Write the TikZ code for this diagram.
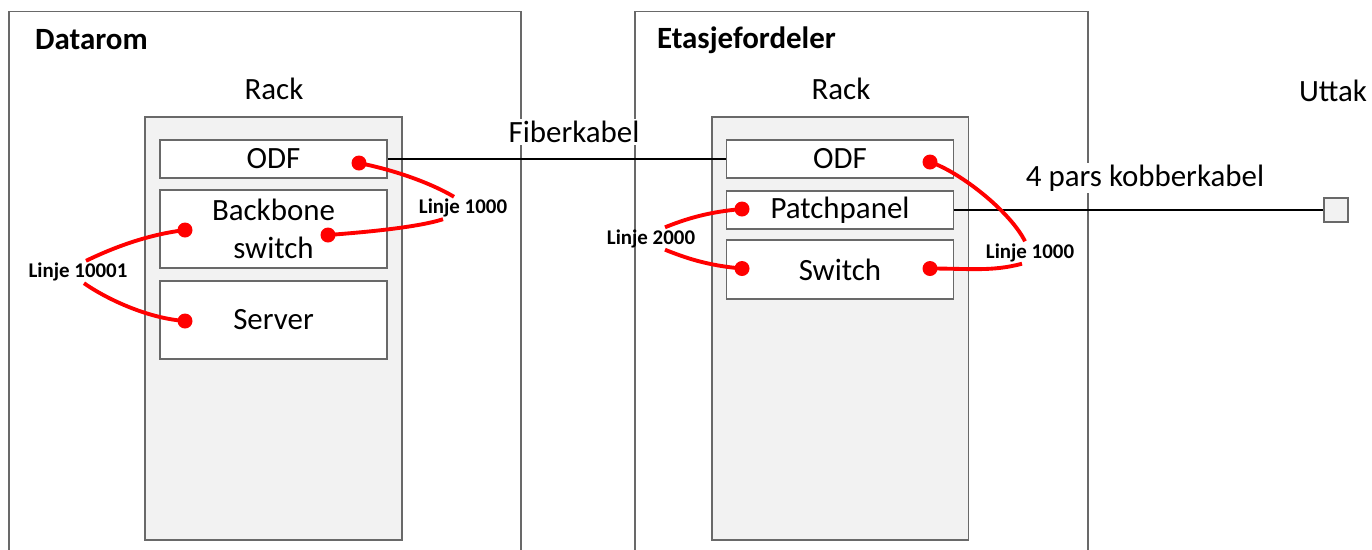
\documentclass[tikz,border=0pt]{standalone}
\usepackage{fontspec}
\setmainfont{Carlito}
\usetikzlibrary{positioning}

\definecolor{boxline}{RGB}{105,105,105}
\definecolor{rackfill}{RGB}{242,242,242}
\definecolor{cablered}{RGB}{255,0,0}
\newcommand{\bigtxt}{\fontsize{17.6}{21.5}\selectfont}
\newcommand{\tagtxt}{\fontsize{11.9}{14}\selectfont\bfseries}

\tikzset{
  room/.style={draw=boxline, line width=1.1pt},
  rack/.style={draw=boxline, fill=rackfill, line width=1.1pt, minimum width=5.14cm, minimum height=8.46cm, inner sep=0pt},
  unit/.style={draw=boxline, fill=white, line width=1.1pt, minimum width=4.54cm, inner sep=0pt, align=center, font=\bigtxt},
  dot/.style={circle, fill=cablered, minimum size=0.3cm, inner sep=0pt},
  cable/.style={cablered, line width=2.2pt},
  tag/.style={inner sep=1pt, font=\tagtxt},
  wire/.style={black, line width=0.8pt},
  txt/.style={inner sep=1pt, font=\bigtxt},
}

\begin{document}
\begin{tikzpicture}[x=0.02cm, y=-0.02cm]
            \useasboundingbox (0,0) rectangle (1372,549);

            % Rooms
            \draw[room] (9,560) -- (9,11.5) -- (521,11.5) -- (521,560);
            \draw[room] (635,560) -- (635,11.5) -- (1088,11.5) -- (1088,560);
            \node[txt, anchor=west, font=\bigtxt\bfseries] (datarom) at (33,40) {Datarom};
            \node[txt, anchor=west, font=\bigtxt\bfseries] (etasje) at (655,40) {Etasjefordeler};

            % Rack in Datarom
            \node[txt] (rackAlbl) at (274,89) {Rack};
            \node[rack] (rackA) at (273.5,328.5) {};
            \node[unit, minimum height=0.76cm] (odfA) at (273.5,159) {ODF};
            \node[unit, minimum height=1.56cm] (bbA) at (273.5,229) {Backbone\\switch};
            \node[unit, minimum height=1.56cm] (srvA) at (273.5,320) {Server};

            % Rack in Etasjefordeler
            \node[txt] (rackBlbl) at (841,89) {Rack};
            \node[rack] (rackB) at (840,328.5) {};
            \node[unit, minimum height=0.76cm] (odfB) at (840,159) {ODF};
            \node[unit, minimum height=0.76cm] (ppB) at (840,210) {Patchpanel};
            \node[unit, minimum height=1.18cm] (swB) at (840,269.5) {Switch};

            % Outlet
            \node[txt] (uttaklbl) at (1333,91) {Uttak};
            \node[draw=boxline, fill=rackfill, line width=1.1pt, minimum size=0.48cm, inner sep=0pt] (uttak) at (1336,210) {};

            % Cables between rooms
            \draw[wire] (odfA.east) -- (odfB.west);
            \node[txt, fill=white] (fiber) at (574,132) {Fiberkabel};
            \draw[wire] (ppB.east) -- (uttak.west);
            \node[txt, fill=white] (kobber) at (1145,178) {4 pars kobberkabel};

            % Ports
            \node[dot] (odfAp) at (359,163) {};
            \node[dot] (bbAl) at (185,230) {};
            \node[dot] (bbAr) at (328,235) {};
            \node[dot] (srvAp) at (185,321) {};
            \node[dot] (odfBp) at (930,162) {};
            \node[dot] (ppBp) at (742,209) {};
            \node[dot] (swBl) at (742,268.5) {};
            \node[dot] (swBr) at (930,268.5) {};

            % Patch lines
            \node[tag] (l1000a) at (463,208) {Linje 1000};
            \node[tag] (l10001) at (78,272) {Linje 10001};
            \node[tag] (l2000) at (651,238.5) {Linje 2000};
            \node[tag] (l1000b) at (1030,252.5) {Linje 1000};

            \draw[cable] (odfAp.center) .. controls +(40,8) and +(-20,-12) .. ([xshift=-0.18cm]l1000a.north);
            \draw[cable] ([xshift=-0.4cm]l1000a.south) .. controls +(-25,8) and +(40,-3) .. (bbAr.center);
            \draw[cable] (bbAl.center) .. controls +(-40,5) and +(25,-12) .. ([xshift=0.16cm]l10001.north);
            \draw[cable] ([xshift=0.12cm]l10001.south) .. controls +(20,14) and +(-40,-3) .. (srvAp.center);
            \draw[cable] (ppBp.center) .. controls +(-35,3) and +(20,-8) .. ([xshift=0.28cm]l2000.north);
            \draw[cable] ([xshift=0.28cm]l2000.south) .. controls +(20,8) and +(-35,-3) .. (swBl.center);
            \draw[cable] (odfBp.center) .. controls +(30,10) and +(-15,-30) .. ([xshift=-0.1cm]l1000b.north);
            \draw[cable] ([xshift=-0.16cm]l1000b.south) .. controls +(-30,8) and +(40,0) .. (swBr.center);

        \end{tikzpicture}
\end{document}
